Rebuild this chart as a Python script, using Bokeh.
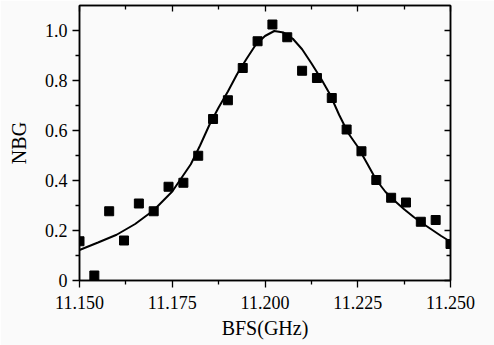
from bokeh.plotting import figure
from bokeh.models import LinearAxis, FixedTicker, PrintfTickFormatter, CustomJSTickFormatter, Range1d
from bokeh.embed import file_html
from bokeh.resources import INLINE

# measured points
bfs_points = [11.150, 11.154, 11.158, 11.162, 11.166, 11.170, 11.174, 11.178, 11.182,
              11.186, 11.190, 11.194, 11.198, 11.202, 11.206, 11.210, 11.214, 11.218,
              11.222, 11.226, 11.230, 11.234, 11.238, 11.242, 11.246, 11.250]
nbg_points = [0.157, 0.020, 0.277, 0.160, 0.308, 0.277, 0.375, 0.391, 0.499,
              0.646, 0.721, 0.850, 0.957, 1.024, 0.973, 0.839, 0.810, 0.730,
              0.604, 0.517, 0.402, 0.331, 0.312, 0.235, 0.242, 0.146]

# fitted curve
fit_bfs = [11.150, 11.155, 11.160, 11.165, 11.170, 11.175, 11.180, 11.1825, 11.185,
           11.1875, 11.190, 11.1925, 11.195, 11.1975, 11.200, 11.2025, 11.205, 11.2075,
           11.210, 11.2125, 11.215, 11.2175, 11.220, 11.2225, 11.225, 11.2275, 11.230,
           11.2325, 11.235, 11.2375, 11.240, 11.2425, 11.245, 11.2475, 11.250]
fit_nbg = [0.122, 0.152, 0.183, 0.226, 0.281, 0.356, 0.465, 0.540, 0.622,
           0.692, 0.756, 0.826, 0.886, 0.943, 0.978, 0.998, 0.992, 0.967,
           0.925, 0.869, 0.810, 0.745, 0.662, 0.588, 0.535, 0.469, 0.402,
           0.354, 0.318, 0.285, 0.255, 0.228, 0.203, 0.178, 0.155]

x_major = [11.150, 11.175, 11.200, 11.225, 11.250]
x_minor = [11.1625, 11.1875, 11.2125, 11.2375]
y_major = [0, 0.2, 0.4, 0.6, 0.8, 1.0]
y_minor = [0.1, 0.3, 0.5, 0.7, 0.9]

FONT = "Liberation Serif"
BG = "#fafafa"

p = figure(width=494, height=345, output_backend="svg", toolbar_location=None,
           x_range=Range1d(11.150, 11.250), y_range=Range1d(0, 1.1),
           min_border_left=79, min_border_right=44, min_border_top=5, min_border_bottom=65,
           background_fill_color=BG, border_fill_color=BG)
p.grid.visible = False
p.outline_line_color = "black"
p.outline_line_width = 1.5

p.line(fit_bfs, fit_nbg, line_color="black", line_width=2)
p.scatter(bfs_points, nbg_points, marker="square", size=9, fill_color="black", line_color="black")

def style(ax, labels=True):
    ax.axis_line_color = "black"
    ax.axis_line_width = 1.5
    ax.major_tick_line_width = 1.3
    ax.minor_tick_line_width = 1.3
    if labels:
        ax.major_tick_in = 0
        ax.major_tick_out = 7
        ax.minor_tick_in = 0
        ax.minor_tick_out = 4
        ax.major_label_text_font = FONT
        ax.major_label_text_font_size = "18px"
        ax.major_label_text_color = "black"
        ax.axis_label_text_font = FONT
        ax.axis_label_text_font_size = "20px"
        ax.axis_label_text_font_style = "normal"
        ax.axis_label_text_color = "black"
    else:
        ax.major_tick_in = 6
        ax.major_tick_out = 0
        ax.minor_tick_in = 4
        ax.minor_tick_out = 0
        ax.major_label_text_font_size = "0px"
        ax.major_label_text_color = None
        ax.major_label_standoff = 0

xa = p.xaxis[0]
xa.ticker = FixedTicker(ticks=x_major, minor_ticks=x_minor)
xa.formatter = PrintfTickFormatter(format="%.3f")
xa.axis_label = "BFS(GHz)"
style(xa)
xa.major_label_standoff = 8
xa.axis_label_standoff = 5

ya = p.yaxis[0]
ya.ticker = FixedTicker(ticks=y_major, minor_ticks=y_minor)
ya.formatter = CustomJSTickFormatter(code="return tick == 0 ? '0' : tick.toFixed(1);")
ya.axis_label = "NBG"
style(ya)
ya.major_label_standoff = 5
ya.axis_label_standoff = 12

top = LinearAxis(ticker=FixedTicker(ticks=x_major, minor_ticks=x_minor))
style(top, labels=False)
p.add_layout(top, "above")
right = LinearAxis(ticker=FixedTicker(ticks=y_major, minor_ticks=y_minor))
style(right, labels=False)
p.add_layout(right, "right")

open("out.html", "w").write(file_html(p, INLINE))
